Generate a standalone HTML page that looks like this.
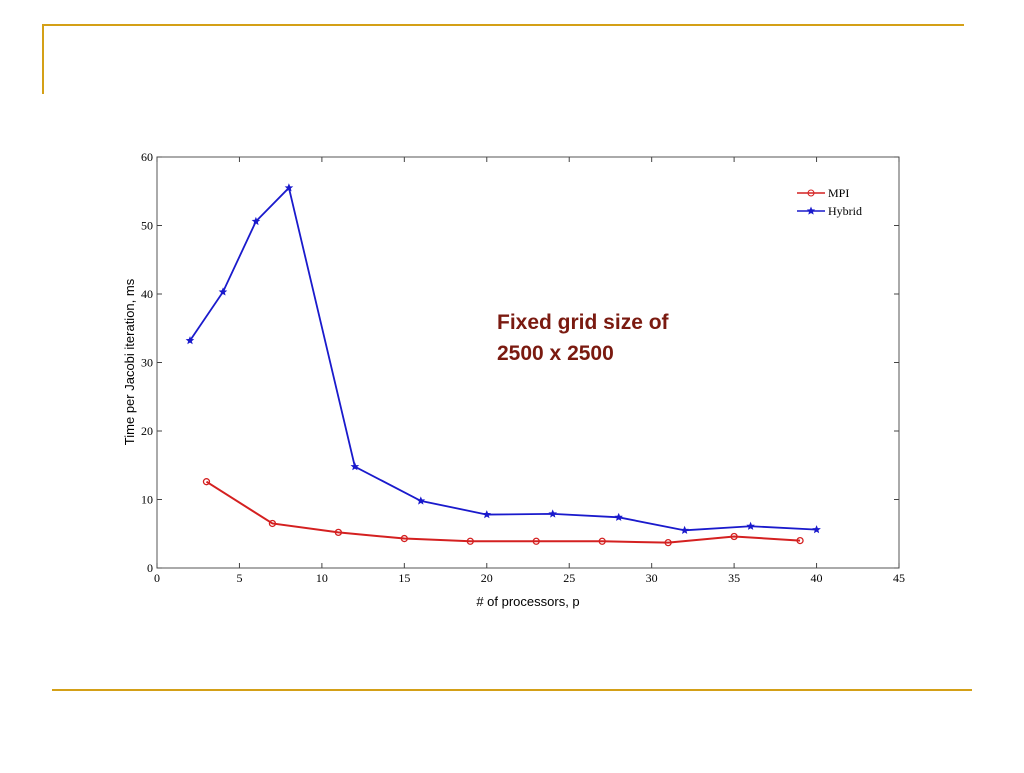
<!DOCTYPE html>
<html><head><meta charset="utf-8"><style>
body{margin:0;width:1024px;height:768px;background:#fff;overflow:hidden;font-family:"Liberation Serif",serif}
</style></head><body>
<svg width="1024" height="768">
<line x1="42" y1="25" x2="964" y2="25" stroke="#d4a017" stroke-width="2"/>
<line x1="43" y1="24" x2="43" y2="94" stroke="#d4a017" stroke-width="2"/>
<line x1="52" y1="690" x2="972" y2="690" stroke="#d4a017" stroke-width="2"/>
<g id="chart"></g>
</svg>
<script>
const xTicks=[0,5,10,15,20,25,30,35,40,45];
const yTicks=[0,10,20,30,40,50,60];
const hybridX=[2,4,6,8,12,16,20,24,28,32,36,40];
const hybridY=[33.2,40.3,50.6,55.5,14.8,9.8,7.8,7.9,7.4,5.5,6.1,5.6];
const mpiX=[3,7,11,15,19,23,27,31,35,39];
const mpiY=[12.6,6.5,5.2,4.3,3.9,3.9,3.9,3.7,4.6,4.0];
const L=157,R=899,T=157,B=568;
const sx=v=>L+(v-0)/45*(R-L), sy=v=>B-(v/60)*(B-T);
const g=document.getElementById('chart');const NS='http://www.w3.org/2000/svg';
function mk(t,a,p){const e=document.createElementNS(NS,t);for(const k in a)e.setAttribute(k,a[k]);(p||g).appendChild(e);return e;}
let e=mk('rect',{x:L,y:T,width:R-L,height:B-T,fill:'none',stroke:'#555','stroke-width':1});


xTicks.forEach(v=>{const x=sx(v);
 let t=mk('line',{x1:x,y1:B,x2:x,y2:B-5,stroke:'#444'});
 
 
 mk('line',{x1:x,y1:T,x2:x,y2:T+5,stroke:'#444'});
 let s=mk('text',{x:x,y:B+14,'text-anchor':'middle','font-size':12,fill:'#000'});s.textContent=v;
 
 });
yTicks.forEach(v=>{const y=sy(v);
 let t=mk('line',{x1:L,y1:y,x2:L+5,y2:y,stroke:'#444'});
 
 
 mk('line',{x1:R,y1:y,x2:R-5,y2:y,stroke:'#444'});
 let s=mk('text',{x:L-4,y:y+4,'text-anchor':'end','font-size':12,fill:'#000'});s.textContent=v;
 
 });
let xt=mk('text',{x:528,y:606,'text-anchor':'middle','font-size':13,'font-family':'Liberation Sans, sans-serif'});xt.textContent='# of processors, p';


let yt=mk('text',{x:0,y:0,'text-anchor':'middle','font-size':13,'font-family':'Liberation Sans, sans-serif',transform:'translate(134,362) rotate(-90)'});yt.textContent='Time per Jacobi iteration, ms';


function star(cx,cy,r,col){let p=[];for(let i=0;i<10;i++){const a=-Math.PI/2+i*Math.PI/5,rr=i%2?r*0.45:r;p.push((cx+rr*Math.cos(a)).toFixed(1)+','+(cy+rr*Math.sin(a)).toFixed(1));}return mk('polygon',{points:p.join(' '),fill:col,stroke:col});}
let mp=mk('polyline',{points:mpiX.map((x,i)=>sx(x)+','+sy(mpiY[i])).join(' '),fill:'none',stroke:'#d42020','stroke-width':2});


mpiX.forEach((x,i)=>{let c=mk('circle',{cx:sx(x),cy:sy(mpiY[i]),r:3,fill:'none',stroke:'#d42020','stroke-width':1.3});
 
 });
let hp=mk('polyline',{points:hybridX.map((x,i)=>sx(x)+','+sy(hybridY[i])).join(' '),fill:'none',stroke:'#1a1acc','stroke-width':1.8});


hybridX.forEach((x,i)=>{let s=star(sx(x),sy(hybridY[i]),3.2,'#1a1acc');
 
 });
mk('line',{x1:797,y1:193,x2:825,y2:193,stroke:'#d42020','stroke-width':1.5});
mk('circle',{cx:811,cy:193,r:3,fill:'none',stroke:'#d42020'});
let l1=mk('text',{x:828,y:197,'font-size':12});l1.textContent='MPI';


mk('line',{x1:797,y1:211,x2:825,y2:211,stroke:'#1a1acc','stroke-width':1.5});
star(811,211,3.2,'#1a1acc');
let l2=mk('text',{x:828,y:215,'font-size':12});l2.textContent='Hybrid';


let a1=mk('text',{x:497,y:329,'font-size':21,'font-weight':'bold',fill:'#7a1a10','font-family':'Liberation Sans, sans-serif'});a1.textContent='Fixed grid size of';


let a2=mk('text',{x:497,y:360,'font-size':21,'font-weight':'bold',fill:'#7a1a10','font-family':'Liberation Sans, sans-serif'});a2.textContent='2500 x 2500';


</script>
</body></html>
